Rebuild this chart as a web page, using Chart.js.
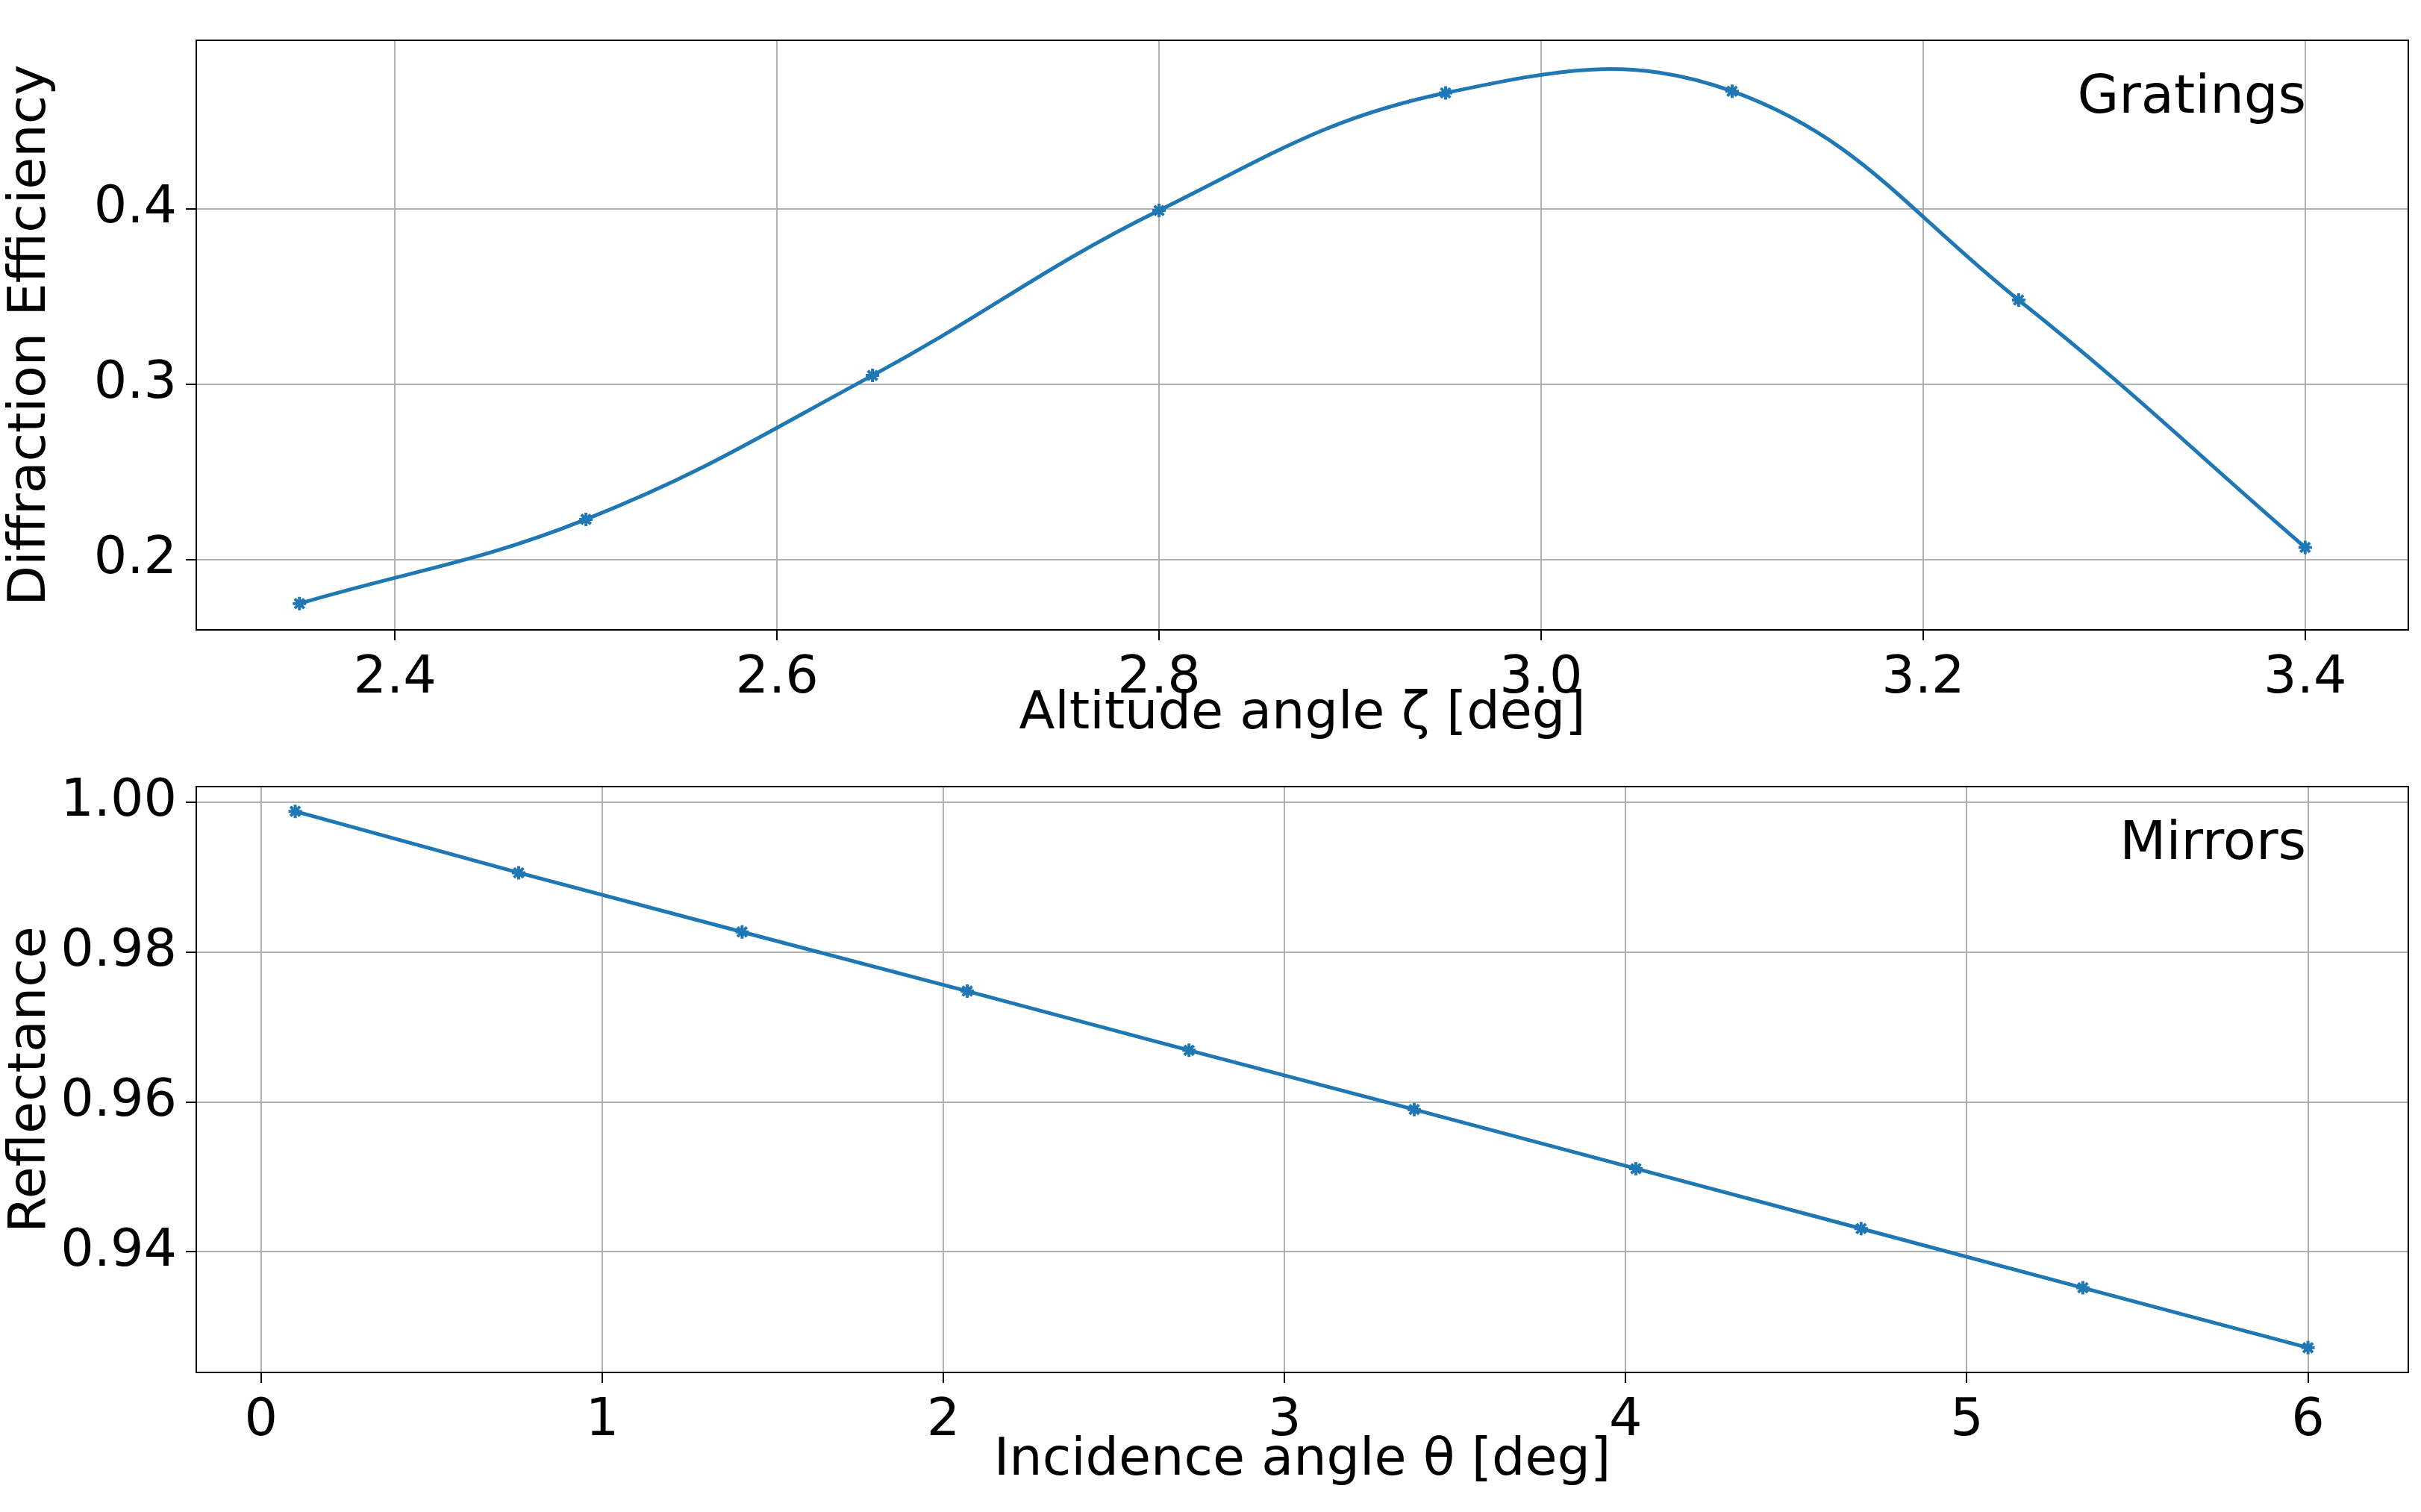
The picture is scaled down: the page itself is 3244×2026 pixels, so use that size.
<!DOCTYPE html>
<html>
<head>
<meta charset="UTF-8">
<script src="https://cdn.jsdelivr.net/npm/chart.js"></script>
<style>
  body { margin: 0; background: white; width: 3244px; height: 2026px; position: relative; overflow: hidden; }
  .box { position: absolute; left: 0; width: 3244px; }
  #top { top: 0; height: 1000px; }
  #bot { top: 1000px; height: 1026px; }
</style>
</head>
<body>
<div class="box" id="top"><canvas id="c1"></canvas></div>
<div class="box" id="bot"><canvas id="c2"></canvas></div>
<script>
// gratings
const gratAngle = [2.35, 2.5, 2.65, 2.8, 2.95, 3.1, 3.25, 3.4];
const gratEff = [0.175, 0.223, 0.305, 0.399, 0.466, 0.467, 0.348, 0.207];
const gratXTicks = [2.4, 2.6, 2.8, 3.0, 3.2, 3.4];
const gratYTicks = [0.2, 0.3, 0.4];
// mirrors
const mirAngle = [0.1, 0.755, 1.41, 2.07, 2.72, 3.38, 4.03, 4.69, 5.34, 6.0];
const mirRefl = [0.9988, 0.9906, 0.9827, 0.9748, 0.9669, 0.9590, 0.9511, 0.9431, 0.9352, 0.9272];
const mirXTicks = [0, 1, 2, 3, 4, 5, 6];
const mirYTicks = [0.94, 0.96, 0.98, 1.00];

const blue = '#1f77b4';
Chart.defaults.font = { family: 'DejaVu Sans', size: 70 };
Chart.defaults.color = '#000';

const labelPlugin = {
  id: 'cornerLabel',
  afterDraw(chart, args, opts) {
    const ctx = chart.ctx, a = chart.chartArea;
    ctx.save();
    // frame on all four sides
    ctx.strokeStyle = '#000';
    ctx.lineWidth = 2;
    ctx.strokeRect(a.left, a.top, a.right - a.left, a.bottom - a.top);
    ctx.font = '72px DejaVu Sans';
    ctx.fillStyle = '#000';
    ctx.textAlign = 'right';
    ctx.textBaseline = 'top';
    ctx.fillText(opts.text, a.right - 137, a.top + 42);
    ctx.restore();
  }
};

function make(id, xs, ys, xt, yt, xmin, xmax, ymin, ymax, xTitle, yTitle, label, tension, digits, padT, xh, padB) {
  new Chart(document.getElementById(id), {
    type: 'line',
    data: { datasets: [{
      data: xs.map((x, i) => ({ x: x, y: ys[i] })),
      borderColor: blue, backgroundColor: blue, borderWidth: 5,
      pointStyle: 'star', pointRadius: 9, pointBorderWidth: 4,
      tension: tension
    }]},
    options: {
      responsive: true, maintainAspectRatio: false, animation: false,
      layout: { padding: { top: padT, right: 17, bottom: padB, left: 0 } },
      plugins: { legend: { display: false }, tooltip: { enabled: false }, cornerLabel: { text: label } },
      scales: {
        x: {
          type: 'linear', min: xmin, max: xmax,
          afterBuildTicks: s => { s.ticks = xt.map(v => ({ value: v })); },
          afterFit: s => { s.height = xh; },
          ticks: { callback: v => xt.includes(v) ? (digits.x ? v.toFixed(digits.x) : String(v)) : '', padding: 10, maxRotation: 0 },
          grid: { color: '#b0b0b0', lineWidth: 2, tickLength: 14, tickColor: '#000' },
          border: { color: '#000', width: 2 },
          title: { display: true, text: xTitle, font: { size: 70 }, padding: 0 }
        },
        y: {
          type: 'linear', min: ymin, max: ymax,
          afterBuildTicks: s => { s.ticks = yt.map(v => ({ value: v })); },
          afterFit: s => { s.width = 263; },
          ticks: { callback: v => v.toFixed(digits.y), padding: 12 },
          grid: { color: '#b0b0b0', lineWidth: 2, tickLength: 14, tickColor: '#000' },
          border: { color: '#000', width: 2 },
          title: { display: true, text: yTitle, font: { size: 70 }, padding: 0 }
        }
      }
    },
    plugins: [labelPlugin]
  });
}

make('c1', gratAngle, gratEff, gratXTicks, gratYTicks, 2.296, 3.454, 0.160, 0.496,
  'Altitude angle ζ [deg]', 'Diffraction Efficiency', 'Gratings', 0.4, { x: 1, y: 1 }, 17, 156, 0);
make('c2', mirAngle, mirRefl, mirXTicks, mirYTicks, -0.19, 6.294, 0.9239, 1.0021,
  'Incidence angle θ [deg]', 'Reflectance', 'Mirrors', 0, { x: 0, y: 2 }, 12, 161, 26);
</script>
</body>
</html>
